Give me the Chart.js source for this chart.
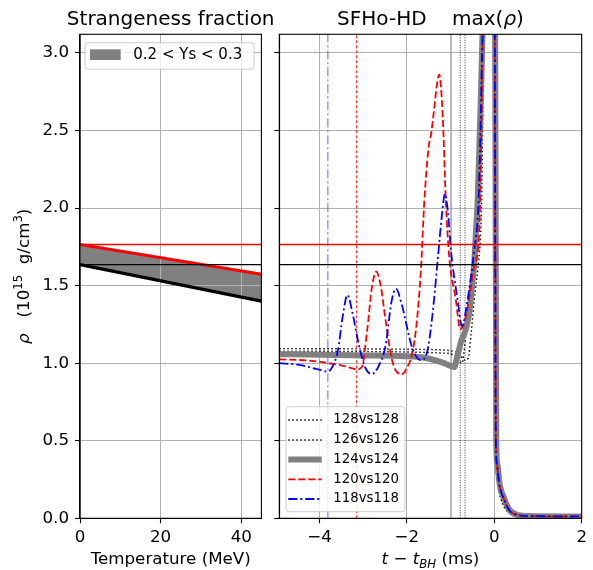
<!DOCTYPE html>
<html>
<head>
<meta charset="utf-8">
<script src="https://cdn.jsdelivr.net/npm/chart.js@4.4.1/dist/chart.umd.min.js"></script>
<style>
  body { margin: 0; background: #fff; }
  #wrap { position: relative; width: 593px; height: 570px; }
  canvas { position: absolute; top: 0; }
  #left { left: 0; }
  #right { left: 270px; }
</style>
</head>
<body>
<div id="wrap">
  <canvas id="left" width="285" height="570"></canvas>
  <canvas id="right" width="323" height="570"></canvas>
</div>
<script>
// ---- left panel: strangeness fraction band ----
const tempMeV = [0, 45];
const rhoYsRed = [1.765, 1.573];
const rhoYsBlack = [1.635, 1.40];
const rhoRefRed = 1.765;
const rhoRefBlack = 1.635;

// ---- right panel: max(rho) vs t - t_BH ----
const t118 = [-4.92, -4.5, -4.18, -3.95, -3.81, -3.70, -3.58, -3.47, -3.36, -3.25, -3.10, -2.95, -2.80, -2.65, -2.49, -2.35, -2.25, -2.12, -1.88, -1.69, -1.54, -1.42, -1.30, -1.20, -1.13, -1.06, -0.99, -0.84, -0.74, -0.61, -0.46, -0.36, -0.27, -0.20, 0.00, 0.035, 0.06, 0.11, 0.23, 0.34, 0.54, 0.8, 2.0];
const rho118 = [1.00, 0.99, 0.97, 0.955, 0.945, 0.98, 1.08, 1.30, 1.44, 1.33, 1.12, 0.97, 0.93, 0.98, 1.11, 1.40, 1.48, 1.38, 1.10, 1.02, 1.07, 1.30, 1.65, 1.95, 2.09, 1.97, 1.72, 1.41, 1.24, 1.41, 1.73, 2.05, 3.12, 4.0, 4.0, 0.5, 0.35, 0.225, 0.118, 0.053, 0.021, 0.015, 0.012];

const t120 = [-4.92, -4.17, -3.79, -3.41, -3.14, -3.03, -2.91, -2.80, -2.70, -2.60, -2.49, -2.34, -2.22, -2.11, -2.00, -1.88, -1.78, -1.68, -1.60, -1.50, -1.45, -1.38, -1.31, -1.26, -1.18, -1.11, -1.03, -0.88, -0.78, -0.70, -0.61, -0.46, -0.34, -0.26, -0.19, 0.00, 0.035, 0.06, 0.11, 0.23, 0.34, 0.54, 0.8, 2.0];
const rho120 = [1.025, 1.015, 1.00, 0.98, 0.96, 0.975, 1.21, 1.49, 1.59, 1.50, 1.28, 1.02, 0.94, 0.93, 0.97, 1.06, 1.25, 1.60, 2.05, 2.40, 2.47, 2.63, 2.80, 2.86, 2.59, 2.05, 1.68, 1.41, 1.22, 1.25, 1.36, 1.62, 1.88, 3.12, 4.0, 4.0, 0.5, 0.35, 0.225, 0.118, 0.053, 0.021, 0.015, 0.012];

const t124 = [-4.92, -4.0, -3.0, -2.06, -1.6, -1.3, -1.1, -0.92, -0.84, -0.76, -0.65, -0.57, -0.50, -0.46, -0.42, -0.38, -0.31, -0.27, -0.20, 0.01, 0.045, 0.07, 0.12, 0.24, 0.35, 0.55, 0.8, 2.0];
const rho124 = [1.058, 1.055, 1.05, 1.045, 1.035, 1.015, 0.995, 0.975, 1.05, 1.14, 1.22, 1.33, 1.52, 1.64, 1.85, 2.05, 2.69, 3.12, 4.0, 4.0, 0.5, 0.35, 0.225, 0.118, 0.053, 0.021, 0.015, 0.012];

const t126 = [-4.92, -3.0, -2.0, -1.2, -1.0, -0.85, -0.74, -0.65, -0.57, -0.50, -0.42, -0.38, -0.27, -0.20, 0.0, 0.03, 0.06, 0.10, 0.20, 0.32, 0.50, 0.8, 2.0];
const rho126 = [1.078, 1.075, 1.072, 1.065, 1.06, 1.035, 1.0, 1.19, 1.405, 1.57, 1.73, 2.05, 3.12, 4.0, 4.0, 0.45, 0.28, 0.19, 0.09, 0.04, 0.016, 0.012, 0.01];

const t128 = [-4.92, -3.0, -2.0, -1.2, -1.0, -0.80, -0.68, -0.60, -0.53, -0.46, -0.38, -0.32, -0.29, -0.24, -0.18, 0.0, 0.03, 0.06, 0.10, 0.20, 0.32, 0.50, 0.8, 2.0];
const rho128 = [1.094, 1.092, 1.09, 1.085, 1.08, 1.06, 1.02, 1.03, 1.19, 1.405, 1.60, 1.80, 2.05, 3.12, 4.0, 4.0, 0.45, 0.28, 0.19, 0.09, 0.04, 0.016, 0.012, 0.01];

// vertical markers (ms)
const tMark118 = -3.81;
const tMark120 = -3.15;
const tMark124 = -0.99;
const tMark126 = -0.78;
const tMark128 = -0.67;

const legendLabels = ['128vs128', '126vs126', '124vs124', '120vs120', '118vs118'];

const tMin = -4.92, tMax = 2;
const rhoMax = 3.12;

const FONT = "'DejaVu Sans', sans-serif";
Chart.defaults.font.family = FONT;
Chart.defaults.color = '#000';

const style118 = { color: '#0000ff', width: 1.8, dash: [9, 3, 2, 3] };
const style120 = { color: '#ff0000', width: 1.8, dash: [7, 3] };
const style124 = { color: '#808080', width: 6, dash: [] };
const style126 = { color: '#000000', width: 1.4, dash: [1.5, 2.5] };
const style128 = { color: '#000000', width: 1.4, dash: [1.5, 2.5] };

function pts(xs, ys) { return xs.map((x, i) => ({ x: x, y: ys[i] })); }
function hline(y, x0, x1) { return [{ x: x0, y: y }, { x: x1, y: y }]; }
function vline(x, y0, y1) { return [{ x: x, y: y0 }, { x: x, y: y1 }]; }

function curve(xs, ys, st) {
  return {
    data: pts(xs, ys), borderColor: st.color, borderWidth: st.width, borderDash: st.dash,
    cubicInterpolationMode: 'monotone', clip: 0
  };
}
function straight(data, color, width, dash) {
  return { data: data, borderColor: color, borderWidth: width, borderDash: dash || [], clip: 0 };
}

function richText(ctx, segs, x, y, size, align) {
  const fontOf = s => (s.it ? 'oblique ' : '') + ((s.sup || s.sub) ? size * 0.7 : size) + 'px ' + FONT;
  let w = 0;
  segs.forEach(s => { ctx.font = fontOf(s); w += ctx.measureText(s.t).width; });
  let cx = align === 'center' ? x - w / 2 : x;
  ctx.textAlign = 'left';
  ctx.textBaseline = 'alphabetic';
  segs.forEach(s => {
    ctx.font = fontOf(s);
    const dy = s.sup ? -size * 0.38 : (s.sub ? size * 0.22 : 0);
    ctx.fillText(s.t, cx, y + dy);
    cx += ctx.measureText(s.t).width;
  });
}

function frame(chart) {
  const ctx = chart.ctx, a = chart.chartArea;
  ctx.save();
  ctx.strokeStyle = '#000';
  ctx.lineWidth = 1.1;
  ctx.strokeRect(a.left, a.top, a.right - a.left, a.bottom - a.top);
  ctx.restore();
}

function legendBox(ctx, x, y, w, h) {
  const r = 3;
  ctx.save();
  ctx.beginPath();
  ctx.moveTo(x + r, y);
  ctx.lineTo(x + w - r, y); ctx.arcTo(x + w, y, x + w, y + r, r);
  ctx.lineTo(x + w, y + h - r); ctx.arcTo(x + w, y + h, x + w - r, y + h, r);
  ctx.lineTo(x + r, y + h); ctx.arcTo(x, y + h, x, y + h - r, r);
  ctx.lineTo(x, y + r); ctx.arcTo(x, y, x + r, y, r);
  ctx.closePath();
  ctx.fillStyle = 'rgba(255,255,255,0.8)';
  ctx.fill();
  ctx.strokeStyle = '#cccccc';
  ctx.lineWidth = 1;
  ctx.stroke();
  ctx.restore();
}

function fmt1(v) { return v.toFixed(1); }
function fmtInt(v) { return v < 0 ? '\u2212' + Math.abs(v) : String(v); }

function xAxis(min, max, step, cb, h) {
  return {
    type: 'linear', min: min, max: max,
    ticks: { stepSize: step, includeBounds: false, font: { size: 16.7 }, color: '#000', padding: 4, maxRotation: 0, autoSkip: false, callback: cb },
    grid: { color: '#b0b0b0', lineWidth: 1, tickColor: '#000', tickLength: 5, tickWidth: 1.1 },
    border: { color: '#000', width: 1.1 },
    afterFit: s => { s.height = h; }
  };
}
function yAxis(max, cb, w) {
  return {
    type: 'linear', min: 0, max: max,
    ticks: { stepSize: 0.5, includeBounds: false, font: { size: 16.7 }, color: '#000', padding: 6, autoSkip: false, callback: cb },
    grid: { color: '#b0b0b0', lineWidth: 1, tickColor: '#000', tickLength: 5, tickWidth: 1.1 },
    border: { color: '#000', width: 1.1 },
    afterFit: s => { s.width = w; }
  };
}

const baseOptions = {
  responsive: false,
  animation: false,
  devicePixelRatio: 1,
  elements: { point: { radius: 0, hoverRadius: 0 }, line: { tension: 0, fill: false } },
  plugins: { legend: { display: false }, tooltip: { enabled: false }, title: { display: false } },
  events: []
};

// ---- left chart ----
const leftDecor = {
  id: 'leftDecor',
  afterDatasetsDraw(chart) { frame(chart); },
  afterDraw(chart) {
    const ctx = chart.ctx, a = chart.chartArea;
    const cx = (a.left + a.right) / 2;
    ctx.save();
    ctx.fillStyle = '#000';
    richText(ctx, [{ t: 'Strangeness fraction' }], cx, 24.8, 20, 'center');
    richText(ctx, [{ t: 'Temperature (MeV)' }], cx, 564, 16.7, 'center');
    ctx.save();
    ctx.translate(28.5, (a.top + a.bottom) / 2);
    ctx.rotate(-Math.PI / 2);
    richText(ctx, [{ t: '\u03c1', it: true }, { t: '   (10' }, { t: '15', sup: true }, { t: '  g/cm' }, { t: '3', sup: true }, { t: ')' }], 0, 0, 16.7, 'center');
    ctx.restore();
    legendBox(ctx, 85, 42.7, 169, 26.6);
    ctx.fillStyle = '#808080';
    ctx.fillRect(90, 49.3, 30.7, 10.7);
    ctx.fillStyle = '#000';
    ctx.font = '15px ' + FONT;
    ctx.textAlign = 'left';
    ctx.textBaseline = 'middle';
    ctx.fillText('0.2 < Ys < 0.3', 133.3, 55.5);
    ctx.restore();
  }
};

new Chart(document.getElementById('left'), {
  type: 'line',
  data: {
    datasets: [
      straight(hline(rhoRefRed, tempMeV[0], tempMeV[1]), '#ff0000', 1.3),
      straight(hline(rhoRefBlack, tempMeV[0], tempMeV[1]), '#000000', 1.3),
      straight(pts(tempMeV, rhoYsRed), '#ff0000', 3.2),
      Object.assign(straight(pts(tempMeV, rhoYsBlack), '#000000', 3.2), { fill: '-1', backgroundColor: '#808080' })
    ]
  },
  options: Object.assign({}, baseOptions, {
    layout: { padding: { left: 0, right: 23.6, top: 34.3, bottom: 0 } },
    plugins: Object.assign({}, baseOptions.plugins, { filler: { drawTime: 'beforeDraw' } }),
    scales: {
      x: xAxis(0, 45, 20, v => String(v), 51.7),
      y: yAxis(rhoMax, fmt1, 80)
    }
  }),
  plugins: [leftDecor]
});

// ---- right chart ----
const rightItems = [
  { label: legendLabels[0], st: style128 },
  { label: legendLabels[1], st: style126 },
  { label: legendLabels[2], st: style124 },
  { label: legendLabels[3], st: style120 },
  { label: legendLabels[4], st: style118 }
];

const rightDecor = {
  id: 'rightDecor',
  afterDatasetsDraw(chart) { frame(chart); },
  afterDraw(chart) {
    const ctx = chart.ctx, a = chart.chartArea;
    const cx = (a.left + a.right) / 2;
    ctx.save();
    ctx.fillStyle = '#000';
    richText(ctx, [{ t: 'SFHo-HD    max(' }, { t: '\u03c1', it: true }, { t: ')' }], cx, 24.8, 20, 'center');
    richText(ctx, [{ t: 't', it: true }, { t: ' \u2212 ' }, { t: 't', it: true }, { t: 'BH', it: true, sub: true }, { t: ' (ms)' }], cx, 564, 16.7, 'center');
    legendBox(ctx, 16, 406.7, 119, 105);
    const rows = [420, 440, 459.5, 479.3, 499];
    rightItems.forEach((it, i) => {
      ctx.save();
      ctx.strokeStyle = it.st.color;
      ctx.lineWidth = it.st.width;
      ctx.setLineDash(it.st.dash);
      ctx.beginPath();
      ctx.moveTo(18.3, rows[i]);
      ctx.lineTo(51.7, rows[i]);
      ctx.stroke();
      ctx.restore();
      ctx.fillStyle = '#000';
      ctx.font = '13.3px ' + FONT;
      ctx.textAlign = 'left';
      ctx.textBaseline = 'middle';
      ctx.fillText(it.label, 63.3, rows[i]);
    });
    ctx.restore();
  }
};

new Chart(document.getElementById('right'), {
  type: 'line',
  data: {
    datasets: [
      straight(hline(rhoRefRed, tMin, tMax), '#ff0000', 1.3),
      straight(hline(rhoRefBlack, tMin, tMax), '#000000', 1.3),
      curve(t118, rho118, style118),
      curve(t120, rho120, style120),
      curve(t124, rho124, style124),
      curve(t126, rho126, style126),
      curve(t128, rho128, style128),
      straight(vline(tMark118, 0, rhoMax), 'rgba(80,80,255,0.6)', 1.5, [9, 3, 2, 3]),
      straight(vline(tMark120, 0, rhoMax), '#ff0000', 0.9, [3, 2]),
      straight(vline(tMark124, 0, rhoMax), '#a8a8a8', 1.6),
      straight(vline(tMark126, 0, rhoMax), '#000000', 0.8, [1, 1.5]),
      straight(vline(tMark128, 0, rhoMax), '#000000', 0.8, [1, 1.5])
    ]
  },
  options: Object.assign({}, baseOptions, {
    layout: { padding: { left: 0, right: 11.3, top: 34.3, bottom: 0 } },
    scales: {
      x: xAxis(tMin, tMax, 2, fmtInt, 51.7),
      y: yAxis(rhoMax, () => '', 9.3)
    }
  }),
  plugins: [rightDecor]
});
</script>
</body>
</html>
